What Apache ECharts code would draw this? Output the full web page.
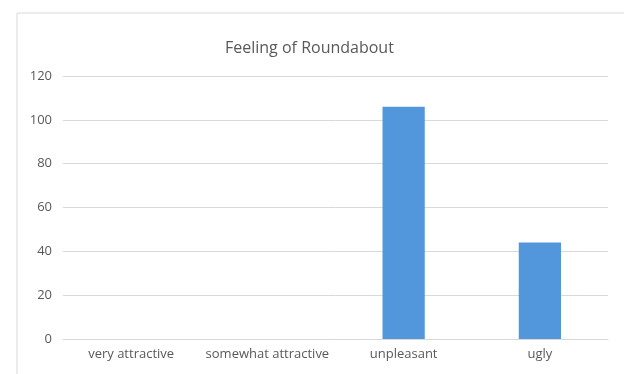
<!DOCTYPE html>
<html>
<head>
<meta charset="utf-8">
<script src="https://cdn.jsdelivr.net/npm/echarts@6/dist/echarts.min.js"></script>
<style>
  html, body { margin: 0; padding: 0; background: #ffffff; }
  #chart { width: 624px; height: 374px; }
</style>
</head>
<body>
<div id="chart"></div>
<script>
// Survey responses: how people feel about the roundabout
const categories = ['very attractive', 'somewhat attractive', 'unpleasant', 'ugly'];
const counts = [0, 0, 106, 44];
const yTicks = [0, 20, 40, 60, 80, 100, 120];

const chart = echarts.init(document.getElementById('chart'), null, { renderer: 'canvas' });
const font = 'Open Sans, Liberation Sans, sans-serif';

chart.setOption({
  backgroundColor: '#ffffff',
  animation: false,
  title: {
    text: 'Feeling of Roundabout',
    left: 220,
    top: 35,
    textStyle: { fontFamily: font, fontSize: 16, fontWeight: 'normal', color: '#595959' }
  },
  graphic: [{
    type: 'rect',
    shape: { x: 17, y: 13, width: 700, height: 420 },
    style: { fill: 'none', stroke: '#d9d9d9', lineWidth: 1 },
    silent: true
  }],
  grid: { left: 63, right: 16, top: 76, bottom: 35 },
  xAxis: {
    type: 'category',
    data: categories,
    axisLine: { show: true, lineStyle: { color: '#d9d9d9' } },
    axisTick: { show: false },
    axisLabel: { interval: 0, fontFamily: font, fontSize: 13, color: '#595959', margin: 9 }
  },
  yAxis: {
    type: 'value',
    min: yTicks[0],
    max: yTicks[yTicks.length - 1],
    interval: yTicks[1] - yTicks[0],
    axisLine: { show: false },
    axisTick: { show: false },
    splitLine: { lineStyle: { color: '#d9d9d9' } },
    axisLabel: { fontFamily: font, fontSize: 13, color: '#595959', margin: 11 }
  },
  series: [{
    type: 'bar',
    data: counts,
    barWidth: '31%',
    itemStyle: { color: '#5296db' }
  }]
});
</script>
</body>
</html>
